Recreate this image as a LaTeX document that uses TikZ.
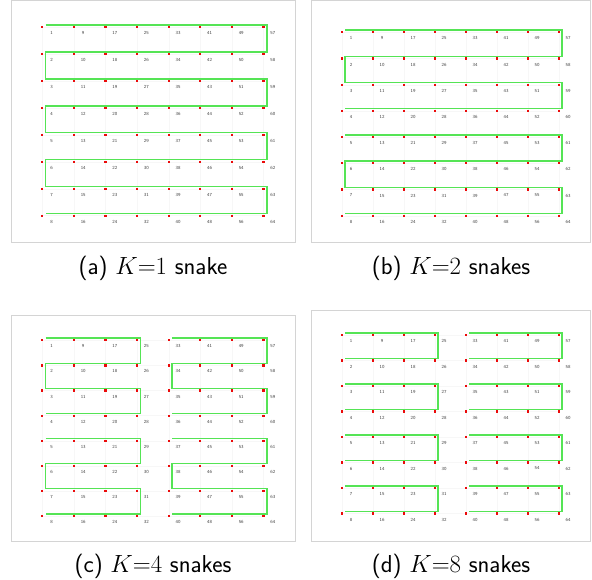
\documentclass[tikz,border=0pt]{standalone}
\definecolor{snakegreen}{RGB}{85,228,85}
\definecolor{dotred}{RGB}{235,10,10}
\definecolor{framegray}{RGB}{212,212,212}
\tikzset{
 snk/.style={draw=snakegreen, line width=1.4pt, line join=miter},
 dotm/.style={fill=dotred, rectangle, minimum size=2.2pt, inner sep=0pt, draw=none},
 numlab/.style={font=\sffamily\fontsize{4.6}{5}\selectfont, text=black!75, inner sep=0pt},
 frm/.style={draw=framegray, line width=0.8pt},
 grd/.style={draw=black!3, line width=0.4pt},
 captext/.style={font=\sffamily\fontsize{24.5}{28}\selectfont, inner sep=0pt}
}
\newcommand\mkpanel[5]{%
 \foreach \c in {0,...,7}{\draw[grd] (#2+\c*#3, #4) -- (#2+\c*#3, #4+7*#5);}
 \foreach \r in {0,...,7}{\draw[grd] (#2, #4+\r*#5) -- (#2+7*#3, #4+\r*#5);}
 \foreach \c in {0,...,7}{\foreach \r in {0,...,7}{%
   \pgfmathtruncatemacro\n{\c*8+\r+1}
   \node[dotm] (#1d\n) at (#2+\c*#3, #4+\r*#5) {};
   \node[numlab] (#1l\n) at (#2+\c*#3+9.3, #4+\r*#5+6) {\n};
   \coordinate (#1-\n) at (#2+\c*#3+3.3, #4+\r*#5-2.2);
 }}%
}
\begin{document}
\begin{tikzpicture}[x=1pt,y=-1pt]
\useasboundingbox (0,0) rectangle (592,579);
% frames
\draw[frm] (11.5,0.8) rectangle (295.7,242);
\draw[frm] (311,0.8) rectangle (590,242);
\draw[frm] (11.7,315) rectangle (295.7,541);
\draw[frm] (311.5,310) rectangle (590,541);
% panels
\mkpanel{a}{42.3}{31.6}{27.3}{26.9}
\mkpanel{b}{341.7}{31.0}{32.3}{26.2}
\mkpanel{c}{42.3}{31.6}{340.3}{25.1}
\mkpanel{d}{341.7}{31.0}{335}{25.5}
% (a) one snake
\draw[snk] (a-1) -- (a-57) -- (a-58) -- (a-2) -- (a-3) -- (a-59) -- (a-60) -- (a-4) -- (a-5) -- (a-61) -- (a-62) -- (a-6) -- (a-7) -- (a-63) -- (a-64) -- (a-8);
% (b) two snakes
\draw[snk] (b-1) -- (b-57) -- (b-58) -- (b-2) -- (b-3) -- (b-59) -- (b-60) -- (b-4);
\draw[snk] (b-5) -- (b-61) -- (b-62) -- (b-6) -- (b-7) -- (b-63) -- (b-64) -- (b-8);
% (c) four snakes
\draw[snk] (c-1) -- (c-25) -- (c-26) -- (c-2) -- (c-3) -- (c-27) -- (c-28) -- (c-4);
\draw[snk] (c-5) -- (c-29) -- (c-30) -- (c-6) -- (c-7) -- (c-31) -- (c-32) -- (c-8);
\draw[snk] (c-33) -- (c-57) -- (c-58) -- (c-34) -- (c-35) -- (c-59) -- (c-60) -- (c-36);
\draw[snk] (c-37) -- (c-61) -- (c-62) -- (c-38) -- (c-39) -- (c-63) -- (c-64) -- (c-40);
% (d) eight snakes
\draw[snk] (d-1) -- (d-25) -- (d-26) -- (d-2);
\draw[snk] (d-3) -- (d-27) -- (d-28) -- (d-4);
\draw[snk] (d-5) -- (d-29) -- (d-30) -- (d-6);
\draw[snk] (d-7) -- (d-31) -- (d-32) -- (d-8);
\draw[snk] (d-33) -- (d-57) -- (d-58) -- (d-34);
\draw[snk] (d-35) -- (d-59) -- (d-60) -- (d-36);
\draw[snk] (d-37) -- (d-61) -- (d-62) -- (d-38);
\draw[snk] (d-39) -- (d-63) -- (d-64) -- (d-40);
% captions
\node[captext] (capa) at (153,268) {(a) $K{=}1$ snake};
\node[captext] (capb) at (451,268) {(b) $K{=}2$ snakes};
\node[captext] (capc) at (153,566) {(c) $K{=}4$ snakes};
\node[captext] (capd) at (451,566) {(d) $K{=}8$ snakes};
\end{tikzpicture}
\end{document}
